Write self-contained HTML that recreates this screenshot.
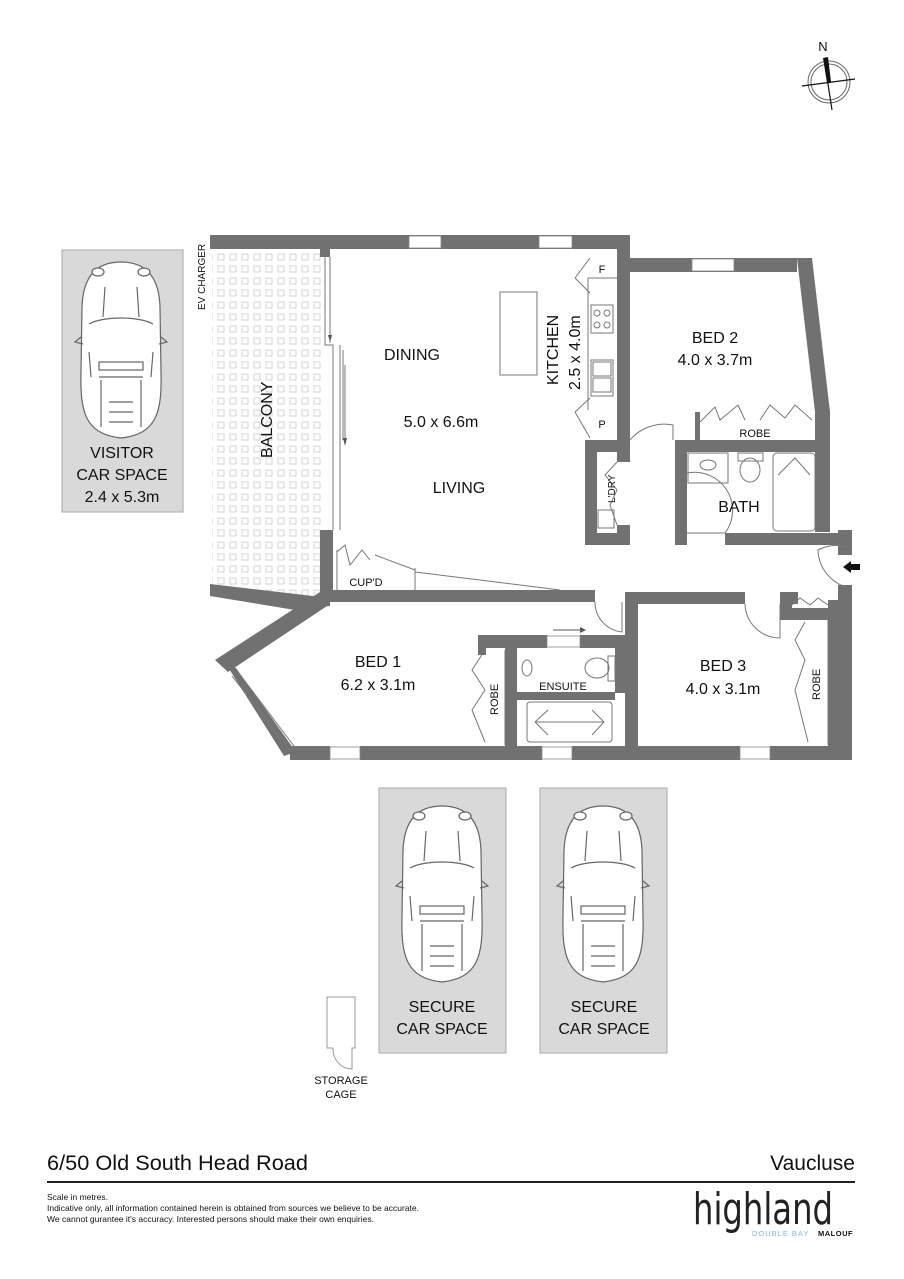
<!DOCTYPE html>
<html><head><meta charset="utf-8"><style>
html,body{margin:0;padding:0;background:#fff;}
svg{display:block;}
text{font-family:"Liberation Sans",Arial,sans-serif;fill:#111;}
</style></head><body>
<svg width="904" height="1279" viewBox="0 0 904 1279" xmlns="http://www.w3.org/2000/svg">
<defs>
<pattern id="tile" x="0" y="0" width="12" height="12" patternUnits="userSpaceOnUse">
<rect x="2" y="2" width="6" height="6" fill="none" stroke="#c8c8c8" stroke-width="0.8"/>
</pattern>
<g id="car" fill="#fff" stroke="#666" stroke-width="1.2">
<path d="M38 0 C62 0 76 14 77 45 L78 110 C79 150 74 172 38 176 C2 172 -3 150 -2 110 L-1 45 C0 14 14 0 38 0 Z"/>
<ellipse cx="15" cy="10" rx="6" ry="4"/><ellipse cx="61" cy="10" rx="6" ry="4"/>
<path d="M6 62 C20 54 56 54 70 62" fill="none"/>
<path d="M22 25 L20 55 M54 25 L56 55" fill="none"/>
<path d="M-2 75 L-8 80 L0 82 M78 75 L84 80 L76 82" fill="none"/>
<path d="M6 90 L8 115 M70 90 L68 115" fill="none"/>
<rect x="16" y="100" width="44" height="8"/>
<path d="M16 115 H60 M18 118 V165 M58 118 V165 M26 140 H50 M26 150 H50 M26 160 H50" fill="none"/>
</g>
</defs>

<!-- compass -->
<text x="823" y="51" font-size="13" text-anchor="middle">N</text>
<circle cx="829" cy="82" r="21" fill="none" stroke="#666" stroke-width="1"/>
<circle cx="829" cy="82" r="18" fill="none" stroke="#666" stroke-width="1"/>
<line x1="802" y1="86" x2="855" y2="79" stroke="#111" stroke-width="1.2"/>
<line x1="824" y1="58" x2="832" y2="110" stroke="#111" stroke-width="1.2"/>
<polygon points="823,58 828,57 831,82 827,83" fill="#111"/>

<!-- visitor car -->
<rect x="62" y="250" width="121" height="262" fill="#d9d9d9" stroke="#aaa"/>
<use href="#car" x="83" y="262"/>
<text x="122" y="458" font-size="16" text-anchor="middle">VISITOR</text>
<text x="122" y="480" font-size="16" text-anchor="middle">CAR SPACE</text>
<text x="122" y="502" font-size="16" text-anchor="middle">2.4 x 5.3m</text>
<text transform="translate(205,310) rotate(-90)" font-size="10">EV CHARGER</text>

<!-- secure car spaces -->
<rect x="379" y="788" width="127" height="265" fill="#d9d9d9" stroke="#aaa"/>
<use href="#car" x="404" y="806"/>
<text x="442" y="1012" font-size="16" text-anchor="middle">SECURE</text>
<text x="442" y="1034" font-size="16" text-anchor="middle">CAR SPACE</text>
<rect x="540" y="788" width="127" height="265" fill="#d9d9d9" stroke="#aaa"/>
<use href="#car" x="565" y="806"/>
<text x="604" y="1012" font-size="16" text-anchor="middle">SECURE</text>
<text x="604" y="1034" font-size="16" text-anchor="middle">CAR SPACE</text>

<!-- storage cage -->
<path d="M333 1048 H327 V997 H355 V1048 H352 V1069 A19 20 0 0 1 333 1048" fill="none" stroke="#999"/>
<text x="341" y="1084" font-size="11" text-anchor="middle">STORAGE</text>
<text x="341" y="1098" font-size="11" text-anchor="middle">CAGE</text>

<!-- balcony -->
<polygon points="212,249 325,249 325,598 295,600 212,588" fill="url(#tile)"/>
<text transform="translate(272,458) rotate(-90)" font-size="16">BALCONY</text>

<g fill="#717171">
<rect x="210" y="235" width="420" height="14"/>
<rect x="617" y="235" width="13" height="210"/>
<rect x="617" y="258" width="180" height="14"/>
<polygon points="797,258 812,258 830,412 815,412"/>
<rect x="815" y="410" width="15" height="122"/>
<rect x="320" y="530" width="13" height="72"/>
<rect x="320" y="249" width="10" height="8"/>
<polygon points="210,584 330,598 330,606 295,610 210,596"/>
<polygon points="320,592 330,604 228,672 215,660"/>
<polygon points="226,664 236,668 296,752 284,756"/>
<rect x="320" y="590" width="275" height="12"/>
<rect x="625" y="592" width="120" height="12"/>
<rect x="780" y="592" width="18" height="12"/>
<rect x="780" y="592" width="12" height="25"/>
<rect x="780" y="608" width="58" height="12"/>
<rect x="838" y="530" width="14" height="25"/>
<rect x="838" y="585" width="14" height="175"/>
<rect x="828" y="600" width="12" height="160"/>
<rect x="675" y="440" width="155" height="12"/>
<rect x="597" y="440" width="33" height="12"/>
<rect x="695" y="412" width="5" height="28"/>
<rect x="585" y="440" width="12" height="105"/>
<rect x="585" y="533" width="45" height="12"/>
<rect x="617" y="452" width="13" height="10"/>
<rect x="617" y="525" width="13" height="20"/>
<rect x="675" y="440" width="12" height="105"/>
<rect x="725" y="533" width="127" height="12"/>
<rect x="675" y="533" width="12" height="12"/>
<rect x="625" y="592" width="13" height="168"/>
<rect x="478" y="635" width="69" height="13"/>
<rect x="580" y="635" width="45" height="13"/>
<rect x="478" y="635" width="8" height="20"/>
<rect x="505" y="635" width="12" height="125"/>
<rect x="615" y="648" width="10" height="45"/>
<rect x="517" y="692" width="98" height="8"/>
<rect x="290" y="746" width="40" height="14"/>
<rect x="360" y="746" width="182" height="14"/>
<rect x="572" y="746" width="168" height="14"/>
<rect x="770" y="746" width="70" height="14"/>
</g>
<g fill="#fff" stroke="#888" stroke-width="0.8">
<rect x="409" y="236" width="32" height="12"/>
<rect x="539" y="236" width="33" height="12"/>
<rect x="692" y="259" width="42" height="12"/>
<rect x="330" y="747" width="30" height="12"/>
<rect x="542" y="747" width="30" height="12"/>
<rect x="740" y="747" width="30" height="12"/>
<rect x="547" y="636" width="33" height="11"/>
</g>
<g fill="none" stroke="#777" stroke-width="1">
<line x1="232" y1="676" x2="288" y2="748"/><line x1="238" y1="672" x2="294" y2="746"/>
<path d="M325 255 V345 H333 V530"/><path d="M330 257 V343"/>
<path d="M343 350 V440"/><path d="M340 345 V530"/>
<path d="M588 278 V410 M588 278 H617"/>
<rect x="500" y="292" width="37" height="83"/>
<rect x="591" y="305" width="22" height="28"/><circle cx="597" cy="313" r="3"/><circle cx="607" cy="313" r="3"/><circle cx="597" cy="325" r="3"/><circle cx="607" cy="325" r="3"/>
<rect x="591" y="360" width="22" height="36"/><rect x="593" y="362" width="18" height="14"/><rect x="593" y="378" width="18" height="14"/>
<path d="M575 278 L590 258 M575 278 L590 293"/>
<path d="M575 412 L590 398 M575 412 L590 438"/>
<path d="M700 422 L715 407 L720 420 L738 405 L745 420 M760 420 L770 405 L785 418 L795 405 L812 420"/>
<path d="M630 440 A45 45 0 0 1 673 425 V440"/>
<path d="M687 473 A38 38 0 0 1 725 533 H687"/>
<path d="M850 548 A38 38 0 0 0 818 550 A40 40 0 0 0 850 588"/>
<path d="M595 602 A30 30 0 0 0 622 632 V602"/>
<path d="M745 604 A35 35 0 0 0 780 638 V604"/>
<path d="M617 462 L605 475 L617 490 L610 505 L617 525"/>
<rect x="598" y="510" width="16" height="18"/>
<rect x="688" y="453" width="40" height="30"/><ellipse cx="708" cy="465" rx="8" ry="5"/>
<rect x="738" y="453" width="25" height="8"/><ellipse cx="750" cy="470" rx="10" ry="12"/>
<rect x="773" y="453" width="42" height="78" rx="4"/><path d="M778 475 L795 458 L810 475"/>
<path d="M337 590 V550 M415 590 V568 M337 552 L345 545 L350 565 L362 550 L370 560"/>
<path d="M415 572 L560 590 M375 555 L415 570"/>
<path d="M792 605 L800 598 L810 605 L818 598 L828 605"/>
<ellipse cx="527" cy="668" rx="5" ry="8"/><ellipse cx="597" cy="668" rx="12" ry="10"/><rect x="608" y="656" width="7" height="25"/>
<rect x="527" y="702" width="85" height="40" rx="3"/><path d="M535 722 L548 710 M535 722 L548 735 M604 722 L592 710 M604 722 L592 735 M535 722 H604"/>
<path d="M553 630 H580" stroke="#555"/>
<path d="M485 650 L472 670 L485 690 L472 710 L485 742 M505 650 V745"/>
<path d="M805 622 L795 640 L805 660 L795 690 L808 742 M828 620 V745"/>
<path d="M330 262 V335"/><path d="M345 365 V440"/>
</g>
<polygon points="580,627 586,630 580,633" fill="#555"/>
<polygon points="328,335 332,335 330,342" fill="#555"/>
<polygon points="343,438 347,438 345,446" fill="#555"/>
<polygon points="843,567 851,561 851,564 860,564 860,570 851,570 851,573" fill="#111"/>

<text x="412" y="360" font-size="16" text-anchor="middle">DINING</text>
<text x="441" y="427" font-size="16" text-anchor="middle">5.0 x 6.6m</text>
<text x="459" y="493" font-size="16" text-anchor="middle">LIVING</text>
<text transform="translate(558,385) rotate(-90)" font-size="16">KITCHEN</text>
<text transform="translate(580,390) rotate(-90)" font-size="16">2.5 x 4.0m</text>
<text x="602" y="273" font-size="11" text-anchor="middle">F</text>
<text x="602" y="428" font-size="11" text-anchor="middle">P</text>
<text x="715" y="343" font-size="16" text-anchor="middle">BED 2</text>
<text x="715" y="365" font-size="16" text-anchor="middle">4.0 x 3.7m</text>
<text x="755" y="437" font-size="11" text-anchor="middle">ROBE</text>
<text transform="translate(615,503) rotate(-90)" font-size="10">L'DRY</text>
<text x="739" y="512" font-size="16" text-anchor="middle">BATH</text>
<text x="366" y="586" font-size="11" text-anchor="middle">CUP'D</text>
<text x="378" y="667" font-size="16" text-anchor="middle">BED 1</text>
<text x="378" y="690" font-size="16" text-anchor="middle">6.2 x 3.1m</text>
<text transform="translate(498,715) rotate(-90)" font-size="11">ROBE</text>
<text x="563" y="690" font-size="11" text-anchor="middle">ENSUITE</text>
<text x="723" y="671" font-size="16" text-anchor="middle">BED 3</text>
<text x="723" y="694" font-size="16" text-anchor="middle">4.0 x 3.1m</text>
<text transform="translate(820,700) rotate(-90)" font-size="11">ROBE</text>

<!-- footer -->
<text x="47" y="1170" font-size="21" textLength="261" lengthAdjust="spacingAndGlyphs">6/50 Old South Head Road</text>
<text x="855" y="1170" font-size="21" text-anchor="end">Vaucluse</text>
<rect x="47" y="1181" width="808" height="2" fill="#222"/>
<text x="47" y="1200" font-size="8.5">Scale in metres.</text>
<text x="47" y="1211" font-size="8.5" textLength="372" lengthAdjust="spacingAndGlyphs">Indicative only, all information contained herein is obtained from sources we believe to be accurate.</text>
<text x="47" y="1222" font-size="8.5" textLength="327" lengthAdjust="spacingAndGlyphs">We cannot gurantee it's accuracy. Interested persons should make their own enquiries.</text>
<text x="693" y="1224" font-size="44" font-weight="normal" textLength="140" lengthAdjust="spacingAndGlyphs" style="font-family:'DejaVu Sans','Liberation Sans',sans-serif;fill:#222">highland</text>
<text x="752" y="1236" font-size="7.5" fill="#7fb8d8" style="fill:#7fb8d8" letter-spacing="1">DOUBLE BAY</text>
<text x="818" y="1236" font-size="7.5" font-weight="bold" letter-spacing="0.5">MALOUF</text>
</svg>
</body></html>
